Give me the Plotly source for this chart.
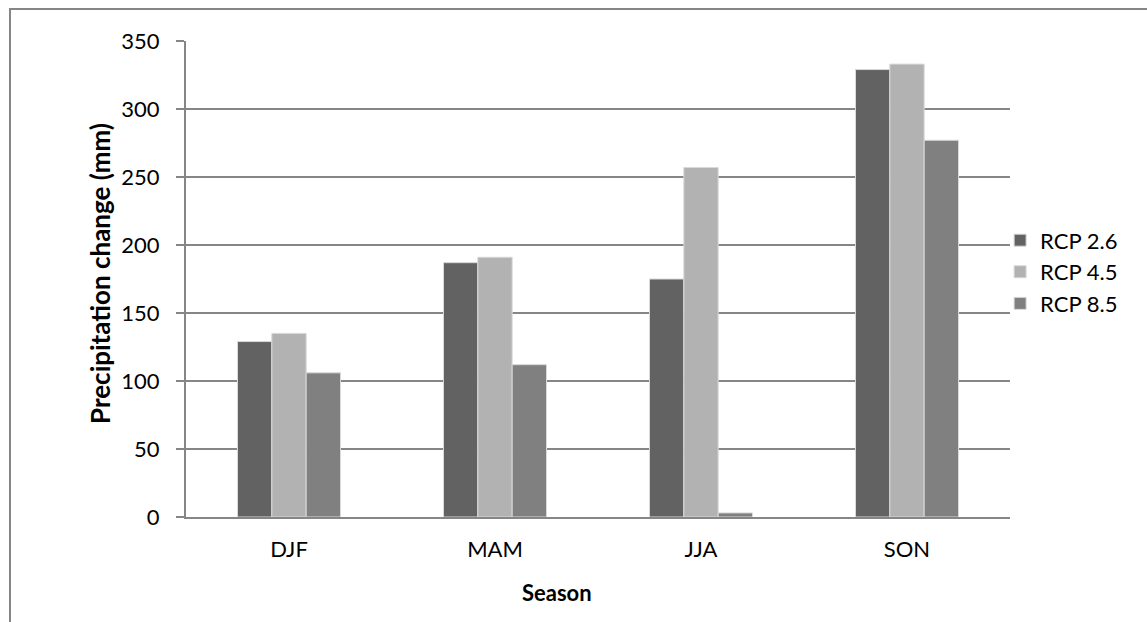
import plotly.graph_objects as go

# Seasonal precipitation change under three emission scenarios
seasons = ["DJF", "MAM", "JJA", "SON"]
rcp26 = [129, 187, 175, 329]
rcp45 = [135, 191, 257, 333]
rcp85 = [106, 112, 3, 277]

series_names = ["RCP 2.6", "RCP 4.5", "RCP 8.5"]
series_values = [rcp26, rcp45, rcp85]
series_colors = ["#626262", "#b2b2b2", "#808080"]

y_ticks = [0, 50, 100, 150, 200, 250, 300, 350]

FONT = "Lato, Open Sans, sans-serif"

fig = go.Figure()
for i, (name, vals, col) in enumerate(zip(series_names, series_values, series_colors)):
    fig.add_trace(go.Bar(
        x=seasons, y=vals, name=name,
        marker=dict(color=col, line=dict(color="#d9d9d9", width=1)),
        legendgroup=f"g{i}",
    ))

fig.update_layout(
    width=1147, height=622,
    margin=dict(l=186, r=137, t=41, b=105),
    paper_bgcolor="white", plot_bgcolor="white",
    barmode="group", bargap=0.5, bargroupgap=0,
    font=dict(family=FONT, size=22, color="#000000"),
    legend=dict(
        x=0.988, xanchor="left", y=0.515, yanchor="middle",
        font=dict(family=FONT, size=22, color="#000000"),
        tracegroupgap=0, itemwidth=30, bgcolor="rgba(0,0,0,0)",
    ),
    showlegend=True,
)

fig.update_xaxes(
    showline=True, linecolor="#868686", linewidth=2,
    showgrid=False, ticks="", tickfont=dict(size=22),
    ticklabelstandoff=12,
)
fig.update_yaxes(
    range=[0, 350], tickvals=y_ticks,
    showline=True, linecolor="#868686", linewidth=2,
    showgrid=True, gridcolor="#868686", gridwidth=2,
    ticks="outside", ticklen=8, tickcolor="#868686", tickwidth=2,
    tickfont=dict(size=22), zeroline=False, ticklabelstandoff=12,
)

# Axis titles
fig.add_annotation(
    text="<b>Precipitation change (mm)</b>", textangle=-90,
    xref="paper", yref="paper", x=-0.1044, y=0.5126,
    xanchor="center", yanchor="middle", showarrow=False,
    font=dict(family=FONT, size=26, color="#000000"),
)
fig.add_annotation(
    text="<b>Season</b>",
    xref="paper", yref="paper", x=(557 - 186) / 824, y=(517 - 592) / 476,
    xanchor="center", yanchor="middle", showarrow=False,
    font=dict(family=FONT, size=22, color="#000000"),
)

# Outer chart frame (left and top edges visible)
fig.add_shape(
    type="rect", xref="paper", yref="paper",
    x0=-0.2136, x1=1.5, y0=-0.6, y1=1.067,
    line=dict(color="#868686", width=2), fillcolor="rgba(0,0,0,0)",
    layer="below",
)

fig.write_html("out.html")
